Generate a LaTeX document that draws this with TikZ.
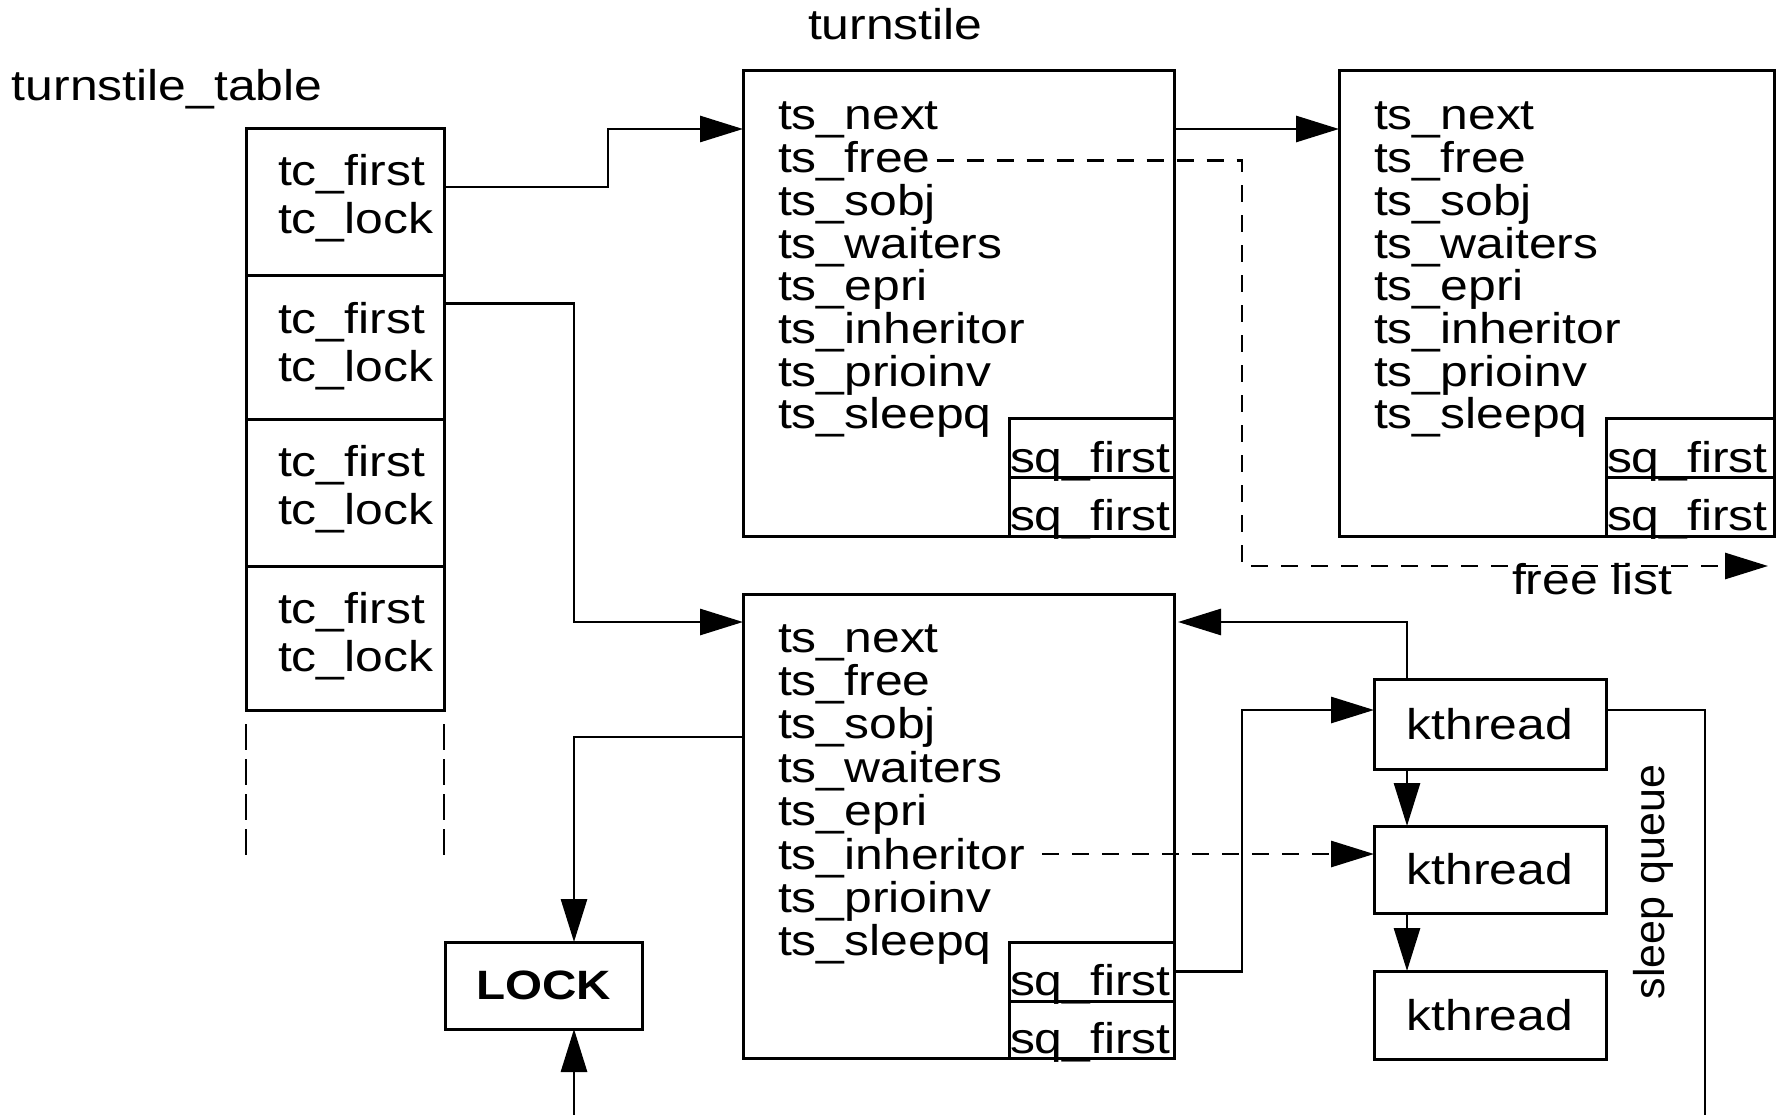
\documentclass[tikz,border=0pt]{standalone}
\usepackage{fontspec}
\setmainfont{Liberation Sans}[FakeStretch=1.16]
\newfontfamily\plainsans{Liberation Sans}
\usetikzlibrary{arrows.meta,calc}

\begin{document}
\begin{tikzpicture}[x=1pt,y=-1pt,
  every node/.style={inner sep=0pt, outer sep=0pt},
  txt/.style={anchor=base west, font=\fontsize{43}{43}\selectfont},
  box/.style={draw, rectangle, line width=3pt},
  conn/.style={line width=2.9pt, -{Triangle[length=43pt,width=26pt]}},
  dconn/.style={conn, dash pattern=on 17pt off 13pt},
  tdash/.style={line width=2.9pt, dash pattern=on 26pt off 9pt},
  plain/.style={line width=2.9pt},
]
\path[fill=white, use as bounding box] (0,0) rectangle (1777,1115);

% ---------- turnstile table ----------
\node[txt] (ttlabel) at (12,101) {turnstile\_table};
\node[box, minimum width=198pt, minimum height=147pt] (c1) at (345,202.5) {};
\node[box, minimum width=198pt, minimum height=143pt] (c2) at (345,347.5) {};
\node[box, minimum width=198pt, minimum height=147pt] (c3) at (345,492.5) {};
\node[box, minimum width=198pt, minimum height=144pt] (c4) at (345,638) {};
\foreach \c/\t in {c1/129, c2/276, c3/419, c4/566} {
  \node[txt] (\c-first) at (278,{\t+57}) {tc\_first};
  \node[txt] (\c-lock)  at (278,{\t+105}) {tc\_lock};
}
\coordinate (tl) at (246,856);
\coordinate (tr) at (444,856);
\draw[tdash] ($(c4.south west)+(0,14)$) -- (tl);
\draw[tdash] ($(c4.south east)+(0,14)$) -- (tr);

% ---------- turnstiles ----------
\node[txt] (tslabel) at (808,40) {turnstile};
\node[box, minimum width=431pt, minimum height=465pt] (b1) at (958.5,303.5) {};
\node[box, minimum width=435pt, minimum height=465pt] (b2) at (1556.5,303.5) {};
\node[box, minimum width=431pt, minimum height=464pt] (b3) at (958.5,826) {};

\node[box, minimum width=165pt, minimum height=59pt] (b1s1) at (1091.5,447.5) {};
\node[box, minimum width=165pt, minimum height=59pt] (b1s2) at (1091.5,506.5) {};
\node[box, minimum width=168pt, minimum height=59pt] (b2s1) at (1690,447.5) {};
\node[box, minimum width=168pt, minimum height=59pt] (b2s2) at (1690,506.5) {};
\node[box, minimum width=165pt, minimum height=59pt] (b3s1) at (1091.5,971.5) {};
\node[box, minimum width=165pt, minimum height=57pt] (b3s2) at (1091.5,1029.5) {};

\foreach \b/\x/\y/\d in {b1/778/130/42.7, b2/1374/130/42.7, b3/778/652/43.4} {
  \foreach \f [count=\i from 0] in {next,free,sobj,waiters,epri,inheritor,prioinv,sleepq}
    \node[txt] (\b-\f) at (\x,{\y+\d*\i}) {ts\_\f};
}
\foreach \s/\x/\y in {b1s1/1010/472, b1s2/1010/530, b2s1/1607/472, b2s2/1607/530,
                      b3s1/1010/995, b3s2/1010/1053}
  \node[txt] (\s-t) at (\x,\y) {sq\_first};

% ---------- lock ----------
\node[box, minimum width=197pt, minimum height=87pt,
      font=\fontsize{41}{41}\selectfont\bfseries] (lock) at (543.5,985.5) {LOCK};

% ---------- sleep queue ----------
\node[box, minimum width=232pt, minimum height=90pt, font=\fontsize{43}{43}\selectfont] (k1) at (1490,724) {kthread};
\node[box, minimum width=232pt, minimum height=87pt, font=\fontsize{43}{43}\selectfont] (k2) at (1490,869.5) {kthread};
\node[box, minimum width=232pt, minimum height=88pt, font=\fontsize{43}{43}\selectfont] (k3) at (1490,1015) {kthread};
\node[rotate=90, font=\plainsans\fontsize{43}{43}\selectfont] (sqlabel) at (1653,882) {sleep queue};

% ---------- free list ----------
\coordinate (s1) at ($(b1-free.base east)+(6,-12)$);
\coordinate (flcorner) at (1242,566);
\coordinate (flend) at (1768,566);
\draw[dconn] (s1) -| (flcorner) -- (flend);
\node[txt] (fllabel) at (1512,594) {free list};

% ---------- connectors ----------
\draw[conn] ($(c1.north east)+(0,58)$) -- ++(164,0) |- ($(b1.north west)+(0,58)$);
\draw[conn] ($(c2.north east)+(0,27.5)$) -- ++(130,0) |- ($(b3.north west)+(0,28)$);
\draw[conn] ($(b1.north east)+(0,58)$) -- ($(b2.north west)+(0,58)$);
\draw[conn] ($(b3.north west)+(0,143)$) -| ($(lock.north west)+(129,0)$);
\coordinate (lockin) at (574,1115);
\draw[conn] (lockin) -- (lockin |- lock.south);

\draw[conn, shorten >=4pt] ($(k1.north west)+(33,0)$) |- ($(b3.north east)+(0,28)$);
\draw[conn] (b3s1.east) -- ++(68,0) |- ($(k1.north west)+(0,31)$);
\coordinate (s2) at ($(b3-inheritor.base east)+(17,-15)$);
\draw[dconn] (s2) -- (s2 -| k2.west);
\draw[conn] ($(k1.south west)+(33,0)$) -- ($(k2.north west)+(33,0)$);
\draw[conn] ($(k2.south west)+(33,0)$) -- ($(k3.north west)+(33,0)$);
\coordinate (sqend) at (1705,1115);
\draw[plain] ($(k1.north east)+(0,31)$) -| (sqend);
\end{tikzpicture}
\end{document}
